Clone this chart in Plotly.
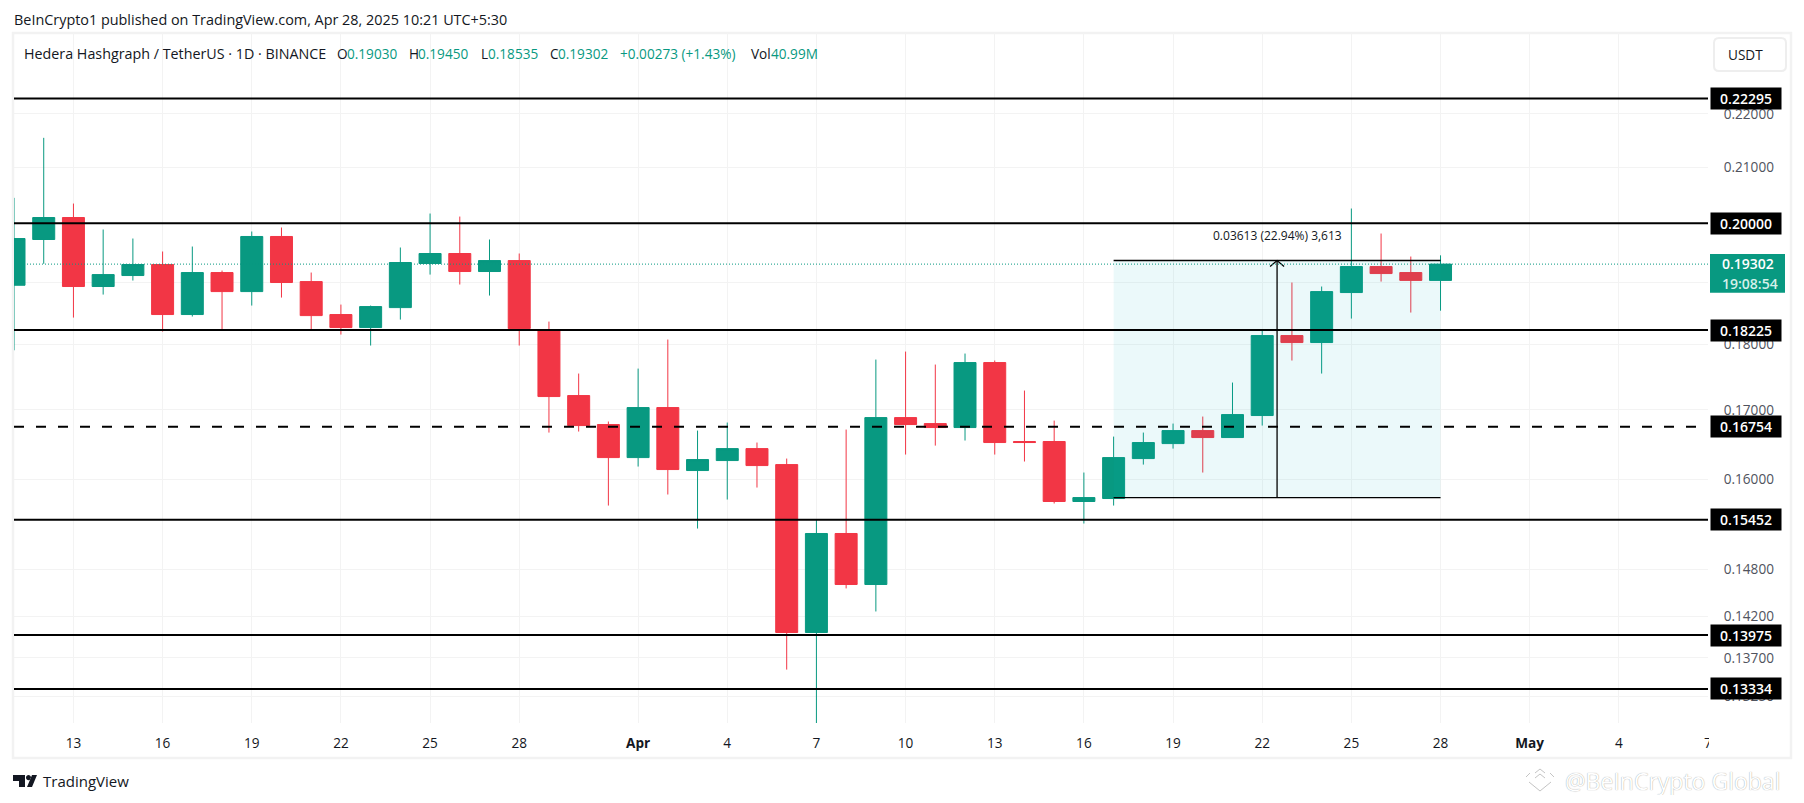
import numpy as np
import pandas as pd
import plotly.graph_objects as go

# candles, one per day from Mar 11 to Apr 28
dates = pd.date_range("2025-03-11", "2025-04-28").strftime("%Y-%m-%d").tolist()
opens = [.18950, .19720, .20101, .18929, .19111, .19295, .18473, .19161, .18846, .19772,
         .19011, .18473, .18265, .18585, .19312, .19481, .19178, .19362, .18217, .17215, .16786,
         .16310, .17036, .16127, .16268, .16438, .16211, .14006, .15267, .14604, .16888,
         .16800, .16742, .17717, .16540, .16540, .15698, .15739, .16296, .16510, .16698,
         .16597, .16918, .18138, .18028, .18830, .19261, .19161, .19030]
highs = [.20448, .21545, .20347, .19892, .19737, .19515, .19600, .19194, .19858, .19927,
         .19161, .18634, .18618, .19583, .20171, .20118, .19720, .19481, .18360, .17548, .16830,
         .17624, .18075, .16698, .16815, .16525, .16296, .15454, .16713, .17763, .17887,
         .17686, .17856, .17748, .17290, .16844, .16099, .16611, .16669, .16800, .16903,
         .17411, .18217, .18995, .18929, .20259, .19823, .19430, .19450]
lows = [.17907, .19307, .18424, .18797, .19028, .18201, .18441, .18233, .18618, .18748,
        .18233, .18154, .17981, .18392, .19127, .18962, .18781, .17981, .16669, .16684, .15643,
        .16183, .15794, .15333, .15725, .15890, .13561, .12900, .14554, .14265, .16353,
        .16481, .16554, .16353, .16254, .15671, .15400, .15643, .16211, .16438, .16099,
        .16597, .16771, .17748, .17548, .18408, .19011, .18505, .18535]
closes = [.19737, .20101, .18929, .19127, .19295, .18473, .19161, .18846, .19772, .18995,
          .18456, .18265, .18602, .19329, .19481, .19178, .19362, .18249, .17200, .16771, .16310,
          .17036, .16141, .16282, .16438, .16197, .14006, .15267, .14604, .16888, .16786,
          .16742, .17717, .16525, .16525, .15698, .15752, .16310, .16525, .16698, .16597,
          .16932, .18138, .18028, .18846, .19261, .19144, .19030, .19302]

# horizontal levels drawn on the chart
solid_levels = [0.22295, 0.20000, 0.18225, 0.15452, 0.13975, 0.13334]
dashed_level = 0.16754
all_levels = [0.22295, 0.20000, 0.18225, 0.16754, 0.15452, 0.13975, 0.13334]
last_price = 0.19302
countdown = "19:08:54"

# price range tool
measure_start = "2025-04-17"
measure_end = "2025-04-28"
measure_mid = "2025-04-22 12:00"
measure_low = 0.1575
measure_high = 0.19363
measure_label = "0.03613 (22.94%) 3,613"

price_ticks = [0.22, 0.21, 0.20, 0.19, 0.18, 0.17, 0.16, 0.148, 0.142, 0.137, 0.1325]
date_ticks = ["2025-03-13", "2025-03-16", "2025-03-19", "2025-03-22", "2025-03-25", "2025-03-28",
              "2025-04-01", "2025-04-04", "2025-04-07", "2025-04-10", "2025-04-13", "2025-04-16",
              "2025-04-19", "2025-04-22", "2025-04-25", "2025-04-28", "2025-05-01", "2025-05-04",
              "2025-05-07"]
date_labels = ["13", "16", "19", "22", "25", "28", "<b>Apr</b>", "4", "7", "10", "13", "16",
               "19", "22", "25", "28", "<b>May</b>", "4", "7"]

GREEN = "#089981"
RED = "#F23645"
GRID = "#f3f3f3"
DARK = "#131722"
FONT = "Open Sans"

# page pixels of the plot area, the page has an 8px body margin
OFFSET = 8
W, H = 1788, 787
PL, PR, PT, PB = 14, 1708, 33, 723


def px(x):
    return (x - PL) / (PR - PL)


def py(y):
    return (PB - y) / (PB - PT)


fig = go.Figure(go.Candlestick(
    x=dates, open=opens, high=highs, low=lows, close=closes,
    increasing=dict(line=dict(color=GREEN, width=1), fillcolor=GREEN),
    decreasing=dict(line=dict(color=RED, width=1), fillcolor=RED),
    whiskerwidth=0,
    showlegend=False,
    hoverinfo="skip",
))

shapes = []

# frame round the chart
shapes.append(dict(type="rect", xref="paper", yref="paper", x0=px(13), x1=px(1791), y0=py(33), y1=py(758),
                   line=dict(color="#f2f2f2", width=2.5), layer="below"))

# measure box, sits over the candles
shapes.append(dict(type="rect", xref="x", yref="y", x0=measure_start, x1=measure_end,
                   y0=measure_low, y1=measure_high, fillcolor="rgba(0,180,185,0.08)", line_width=0))
shapes.append(dict(type="line", xref="x", yref="y", x0=measure_start, x1=measure_end,
                   y0=measure_high, y1=measure_high, line=dict(color="black", width=1.3)))
shapes.append(dict(type="line", xref="x", yref="y", x0=measure_start, x1=measure_end,
                   y0=measure_low, y1=measure_low, line=dict(color="black", width=1.3)))
shapes.append(dict(type="line", xref="x", yref="y", x0=measure_mid, x1=measure_mid,
                   y0=measure_low, y1=measure_high, line=dict(color="black", width=1.3)))
# arrow head
shapes.append(dict(type="path", xref="x", yref="y", xsizemode="pixel", ysizemode="pixel",
                   xanchor=measure_mid, yanchor=measure_high,
                   path="M-7,-6 L0,0 L7,-6", line=dict(color="black", width=1.3)))

# last price dotted line
shapes.append(dict(type="line", xref="paper", yref="y", x0=px(27), x1=1, y0=last_price, y1=last_price,
                   line=dict(color=GREEN, width=1, dash="1px,2px")))

for lvl in solid_levels:
    shapes.append(dict(type="line", xref="paper", yref="y", x0=0, x1=1, y0=lvl, y1=lvl,
                       line=dict(color="black", width=2)))
shapes.append(dict(type="line", xref="paper", yref="y", x0=0, x1=1, y0=dashed_level, y1=dashed_level,
                   line=dict(color="black", width=2, dash="10px,12px")))

# price axis cuts off the last date label
shapes.append(dict(type="rect", xref="paper", yref="paper", x0=px(1709), x1=px(1718), y0=py(732), y1=py(752),
                   fillcolor="white", line_width=0))

# green tag for the last price
shapes.append(dict(type="rect", xref="paper", yref="paper", x0=px(1710), x1=px(1785), y0=py(254), y1=py(292.7),
                   fillcolor=GREEN, line_width=0))

# USDT button
bx0, bx1, by0, by1 = px(1714), px(1786), py(38), py(71)
rx, ry = 5 / (PR - PL), 5 / (PB - PT)
shapes.append(dict(type="path", xref="paper", yref="paper",
                   path=f"M{bx0+rx},{by0} L{bx1-rx},{by0} Q{bx1},{by0} {bx1},{by0-ry} L{bx1},{by1+ry} "
                        f"Q{bx1},{by1} {bx1-rx},{by1} L{bx0+rx},{by1} Q{bx0},{by1} {bx0},{by1+ry} "
                        f"L{bx0},{by0-ry} Q{bx0},{by0} {bx0+rx},{by0} Z",
                   line=dict(color="#eeeeee", width=2)))

# TradingView logo
logo_x, logo_y = px(13), py(787)
shapes.append(dict(type="path", xref="paper", yref="paper", xsizemode="pixel", ysizemode="pixel",
                   xanchor=logo_x, yanchor=logo_y,
                   path="M0,12 L12,12 L12,0 L6,0 L6,6 L0,6 Z M19,12 L24,12 L19,0 L14,0 Z "
                        "M13,9.5 C13,13 18,13 18,9.5 C18,6 13,6 13,9.5 Z",
                   fillcolor=DARK, line_width=0))

# watermark logo
wm_x, wm_y = px(1540), py(781)
shapes.append(dict(type="path", xref="paper", yref="paper", xsizemode="pixel", ysizemode="pixel",
                   xanchor=wm_x, yanchor=wm_y,
                   path="M-14,4 L-10,8 M-5,8 L0,12 L5,8 M10,8 L14,4 M-5,3 L0,7 L5,3 M-11,-1 L0,-10 L11,-1",
                   line=dict(color="#c4c4c4", width=1)))

annotations = []


def add_text(text, x, y, size=14, color=DARK, anchor="left", weight="normal"):
    annotations.append(dict(text=text, xref="paper", yref="paper", x=px(x), y=py(y), xanchor=anchor,
                            yanchor="middle", showarrow=False, borderpad=0,
                            font=dict(family=FONT, size=size, color=color, weight=weight)))


add_text("BeInCrypto1 published on TradingView.com, Apr 28, 2025 10:21 UTC+5:30", 13, 20, size=14.4)
add_text("Hedera Hashgraph / TetherUS · 1D · BINANCE", 23, 53, size=14.3)

legend_parts = [("O", 336, DARK), ("0.19030", 346, GREEN), ("H", 408, DARK), ("0.19450", 417, GREEN),
                ("L", 480, DARK), ("0.18535", 487, GREEN), ("C", 549, DARK), ("0.19302", 557, GREEN),
                ("+0.00273 (+1.43%)", 619, GREEN), ("Vol", 750, DARK), ("40.99M", 770, GREEN)]
for txt, x, col in legend_parts:
    add_text(txt, x, 53, size=13.6, color=col)

add_text("USDT", 1727, 54, size=13.6)

# black price tags
for lvl in all_levels:
    annotations.append(dict(text=f"{lvl:.5f}", xref="paper", yref="y", x=px(1710), y=np.log10(lvl),
                            xanchor="left", yanchor="middle", showarrow=False, width=70, height=21,
                            bgcolor="black", borderpad=0, align="center",
                            font=dict(family=FONT, size=14, color="white", weight=600)))

add_text(f"{last_price:.5f}", 1721, 264, size=14, color="white", weight=600)
add_text(countdown, 1721, 283, size=14, color="#d5f0ea", weight=600)

annotations.append(dict(text=measure_label, xref="x", yref="y", x=measure_mid, y=np.log10(0.19794),
                        xanchor="center", yanchor="middle", showarrow=False,
                        font=dict(family=FONT, size=12, color=DARK)))

add_text("TradingView", 42, 781, size=15)
add_text("@BeInCrypto Global", 1564, 781, size=23, color="white")
annotations[-1]["font"]["shadow"] = "0 0 1px #8c8c8c"

fig.update_layout(
    width=W, height=H,
    margin=dict(l=PL - OFFSET, r=W - (PR - OFFSET), t=PT - OFFSET, b=H - (PB - OFFSET), pad=0),
    paper_bgcolor="white",
    plot_bgcolor="white",
    boxgap=0.26,
    boxgroupgap=0,
    showlegend=False,
    font=dict(family=FONT, size=13.6, color=DARK),
    shapes=shapes,
    annotations=annotations,
    xaxis=dict(
        type="date",
        range=["2025-03-11", "2025-05-07"],
        rangeslider=dict(visible=False),
        tickmode="array", tickvals=date_ticks, ticktext=date_labels,
        ticks="outside", ticklen=8, tickcolor="white", tickangle=0,
        showgrid=True, gridcolor=GRID, gridwidth=1,
        showline=False, zeroline=False,
    ),
    yaxis=dict(
        type="log",
        side="right",
        range=[np.log10(0.12945), np.log10(0.23604)],
        tickmode="array", tickvals=price_ticks, ticktext=[f"{t:.5f}" for t in price_ticks],
        ticks="outside", ticklen=12, tickcolor="white",
        tickfont=dict(color="#50535e", size=13.6),
        showgrid=True, gridcolor=GRID, gridwidth=1,
        showline=False, zeroline=False,
    ),
)

fig.write_html("out.html")
